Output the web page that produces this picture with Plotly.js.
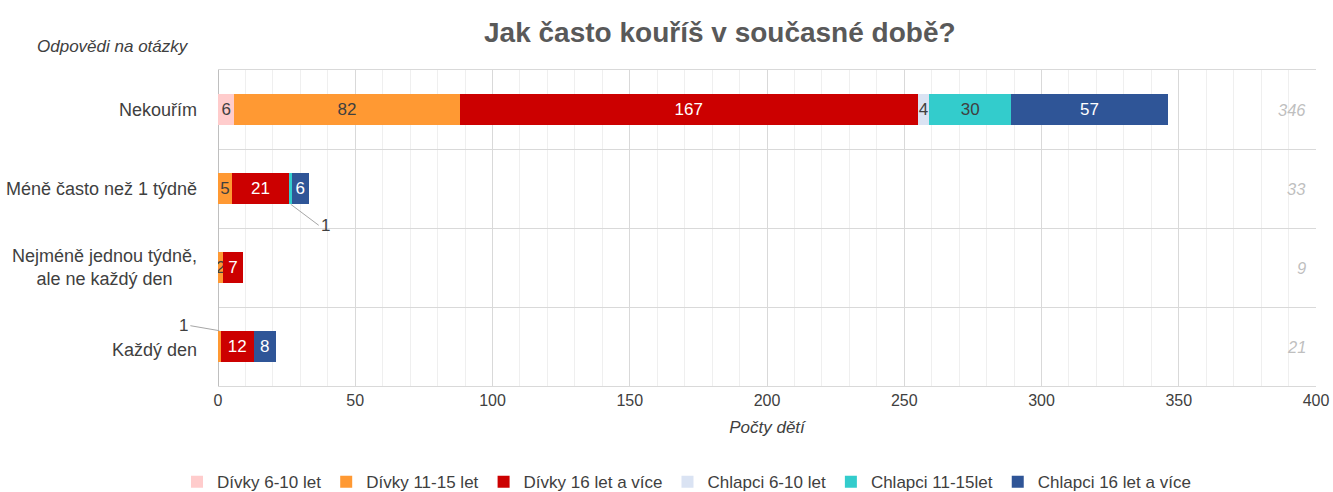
<!DOCTYPE html>
<html><head><meta charset="utf-8">
<script src="https://cdn.plot.ly/plotly-3.0.1.min.js"></script>
<style>html,body{margin:0;padding:0;background:#fff}#chart{width:1333px;height:492px}</style>
</head><body><div id="chart"></div>
<script>
const categories = ["Nekouřím", "Méně často než 1 týdně", "Nejméně jednou týdně,<br>ale ne každý den", "Každý den"];
const seriesNames = ["Dívky 6-10 let", "Dívky 11-15 let", "Dívky 16 let a více", "Chlapci 6-10 let", "Chlapci 11-15let", "Chlapci 16 let a více"];
const divky610 = [6, 0, 0, 0];
const divky1115 = [82, 5, 2, 1];
const divky16 = [167, 21, 7, 12];
const chlapci610 = [4, 0, 0, 0];
const chlapci1115 = [30, 1, 0, 0];
const chlapci16 = [57, 6, 0, 8];
const colors = ["#FFCCCC", "#FF9933", "#CC0000", "#DAE3F3", "#33CCCC", "#2F5597"];
const textColors = ["#404040", "#404040", "#ffffff", "#404040", "#404040", "#ffffff"];
const series = [divky610, divky1115, divky16, chlapci610, chlapci1115, chlapci16];
// values labelled by callout instead of inside the bar
const callouts = [{s: 4, c: 1, dir: 'down'}, {s: 1, c: 3, dir: 'up'}];

const FONT = "Liberation Sans, Arial, sans-serif";
const traces = series.map((vals, si) => ({
  type: 'bar', orientation: 'h', name: seriesNames[si],
  y: categories, x: vals,
  marker: {color: colors[si]},
  text: vals.map((v, ci) => (v === 0 || callouts.some(o => o.s === si && o.c === ci)) ? '' : String(v)),
  textposition: 'inside', insidetextanchor: 'middle', textangle: 0, constraintext: 'none',
  insidetextfont: {family: FONT, size: 17, color: textColors[si]},
  hoverinfo: 'skip'
}));

const totals = categories.map((c, ci) => series.reduce((a, s) => a + s[ci], 0));
const annotations = totals.map((t, ci) => ({
  xref: 'paper', yref: 'y', x: 0.9927, y: ci, xanchor: 'right', yanchor: 'middle',
  text: '<i>' + t + '</i>', showarrow: false, font: {family: FONT, size: 16.5, color: '#BFBFBF'}
}));
// category labels (centred multi-line text)
categories.forEach((c, ci) => annotations.push({
  xref: 'paper', yref: 'y', x: -0.0173, y: ci, xanchor: 'right', yanchor: 'middle', align: 'center',
  yshift: ci === 3 ? -3 : 0,
  text: c, showarrow: false, font: {family: FONT, size: 18, color: '#404040'}
}));
callouts.forEach(o => {
  const before = series.slice(0, o.s).reduce((a, s) => a + s[o.c], 0);
  const xc = before + series[o.s][o.c] / 2;
  annotations.push({
    xref: 'x', yref: 'y', x: xc, y: o.c + (o.dir === 'down' ? 0.2 : -0.2),
    text: String(series[o.s][o.c]), showarrow: true, arrowhead: 0, arrowwidth: 1, arrowcolor: '#A6A6A6',
    ax: o.dir === 'down' ? 28 : -29, ay: o.dir === 'down' ? 21 : -5,
    xanchor: o.dir === 'down' ? 'left' : 'right',
    font: {family: FONT, size: 17, color: '#404040'}
  });
});
annotations.push({
  xref: 'paper', yref: 'paper', x: -0.0956, y: 1.073, xanchor: 'center', yanchor: 'middle',
  text: '<i>Odpovědi na otázky</i>', showarrow: false, font: {family: FONT, size: 17, color: '#404040'}
});

const layout = {
  width: 1333, height: 492,
  margin: {l: 218, r: 17, t: 70, b: 106},
  barmode: 'stack', bargap: 0.6,
  paper_bgcolor: '#fff', plot_bgcolor: '#fff',
  font: {family: FONT, color: '#404040'},
  title: {text: '<b>Jak často kouříš v současné době?</b>', font: {family: FONT, size: 28, color: '#595959'},
          x: 0.54, xref: 'container', xanchor: 'center', y: 0.935, yref: 'container', yanchor: 'middle'},
  xaxis: {range: [0, 400], dtick: 50, showgrid: true, gridcolor: '#D9D9D9', gridwidth: 1,
          minor: {dtick: 10, showgrid: true, gridcolor: '#EFEFEF', gridwidth: 1},
          zeroline: true, zerolinecolor: '#BFBFBF', zerolinewidth: 1,
          showline: true, mirror: true, linecolor: '#D9D9D9', linewidth: 1,
          tickfont: {family: FONT, size: 16, color: '#404040'}, ticks: '',
          title: {text: '<i>Počty dětí</i>', font: {family: FONT, size: 17, color: '#404040'}, standoff: 12}},
  yaxis: {autorange: 'reversed', type: 'category', tickson: 'boundaries', showgrid: true,
          gridcolor: '#D9D9D9', gridwidth: 1, ticks: '', showticklabels: false},
  legend: {orientation: 'h', x: 0.515, xanchor: 'center', xref: 'container', y: 0.02, yanchor: 'middle', yref: 'container',
           font: {family: FONT, size: 17, color: '#404040'}, traceorder: 'normal', itemwidth: 30},
  showlegend: true,
  annotations: annotations
};
Plotly.newPlot('chart', traces, layout, {displayModeBar: false, staticPlot: true});
</script></body></html>
